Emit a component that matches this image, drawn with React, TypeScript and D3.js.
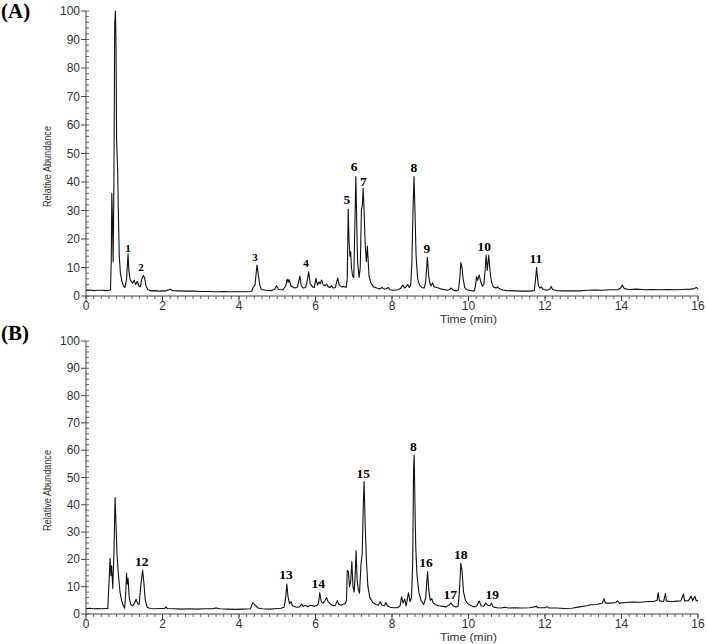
import React from "react";
import * as d3 from "d3";

// ---- Data (time in min, relative abundance %) ----
const traceA: [number, number][] = [
  [0.0, 2.0], [0.1, 2.1], [0.2, 1.9], [0.3, 2.0], [0.4, 2.0], [0.5, 1.9], [0.6, 2.0], [0.64, 2.2],
  [0.66, 12], [0.675, 36], [0.69, 28], [0.71, 12], [0.73, 40], [0.75, 95], [0.77, 100], [0.785, 88],
  [0.8, 55], [0.83, 43], [0.845, 30], [0.87, 14], [0.9, 8], [0.94, 5], [0.98, 3.5], [1.02, 3.0],
  [1.06, 6], [1.1, 14.8], [1.12, 9], [1.15, 6], [1.19, 5], [1.22, 4.5], [1.26, 5.5], [1.3, 4],
  [1.34, 5.2], [1.38, 3.5], [1.42, 3.2], [1.46, 6], [1.5, 7.2], [1.53, 6.5], [1.57, 3.5], [1.62, 2.2],
  [1.7, 1.8], [1.8, 1.9], [1.9, 1.7], [2.0, 1.8], [2.1, 1.8], [2.2, 2.4], [2.26, 1.9], [2.4, 1.8],
  [2.6, 1.7], [2.8, 1.7], [3.0, 1.6], [3.2, 1.6], [3.4, 1.5], [3.6, 1.6], [3.8, 1.5], [4.0, 1.5],
  [4.2, 1.5], [4.33, 1.6], [4.37, 3.0], [4.42, 4.0], [4.47, 10.9], [4.5, 8], [4.54, 4], [4.58, 2.3],
  [4.7, 2.0], [4.85, 1.9], [4.93, 2.4], [4.98, 3.6], [5.03, 2.3], [5.15, 2.2], [5.22, 3.5], [5.26, 5.9],
  [5.285, 4.8], [5.31, 5.8], [5.36, 3.5], [5.45, 2.8], [5.52, 3.0], [5.56, 5], [5.59, 7.0], [5.63, 3.5],
  [5.68, 2.8], [5.74, 3.0], [5.78, 5], [5.82, 8.5], [5.86, 4.5], [5.92, 3.2], [5.97, 3.0], [6.01, 6.2],
  [6.05, 3.8], [6.09, 5], [6.12, 4.2], [6.16, 5.6], [6.2, 4.0], [6.25, 3.5], [6.29, 4.2], [6.33, 3.2],
  [6.38, 3.0], [6.42, 3.6], [6.46, 2.8], [6.52, 3.0], [6.58, 6.4], [6.62, 3.8], [6.68, 3.2], [6.74, 3.3],
  [6.8, 3.0], [6.83, 6], [6.855, 30.4], [6.875, 20], [6.9, 14], [6.92, 15.5], [6.94, 10], [6.97, 7],
  [7.0, 6.5], [7.03, 25], [7.055, 41.9], [7.075, 28], [7.1, 12], [7.14, 6.5], [7.17, 10], [7.2, 30],
  [7.225, 32], [7.245, 37.8], [7.27, 30], [7.3, 18], [7.33, 12], [7.355, 17.5], [7.37, 14], [7.4, 7],
  [7.45, 4.5], [7.52, 3.2], [7.6, 2.8], [7.68, 2.5], [7.74, 3.0], [7.8, 2.4], [7.86, 2.6], [7.9, 3.0],
  [7.95, 2.2], [8.05, 2.0], [8.15, 2.2], [8.22, 2.6], [8.28, 3.8], [8.33, 2.8], [8.37, 3.2], [8.41, 4.0],
  [8.45, 3.0], [8.49, 3.8], [8.52, 12], [8.545, 28], [8.575, 41.9], [8.6, 30], [8.63, 14], [8.67, 6],
  [8.72, 3.8], [8.78, 3.0], [8.84, 2.8], [8.88, 5], [8.925, 13.6], [8.96, 7], [8.99, 4.5], [9.02, 3.5],
  [9.06, 4.6], [9.1, 3.2], [9.17, 3.0], [9.25, 2.6], [9.35, 2.3], [9.45, 2.0], [9.5, 2.2], [9.55, 2.8],
  [9.6, 2.0], [9.68, 1.8], [9.74, 2.2], [9.77, 6], [9.8, 11.7], [9.83, 10], [9.86, 6], [9.9, 3],
  [9.95, 2.2], [10.05, 1.9], [10.15, 1.8], [10.18, 3.5], [10.21, 6.8], [10.24, 5.5], [10.28, 7.4], [10.32, 5],
  [10.36, 3.5], [10.4, 4], [10.44, 10], [10.46, 14.4], [10.49, 9], [10.53, 14.4], [10.56, 9], [10.6, 5],
  [10.65, 3.2], [10.72, 2.8], [10.76, 3.2], [10.8, 2.6], [10.9, 2.1], [11.0, 1.9], [11.2, 1.8], [11.4, 1.7],
  [11.6, 1.7], [11.72, 1.9], [11.755, 6], [11.78, 10.1], [11.8, 7], [11.83, 3.5], [11.87, 2.8], [11.9, 3.2],
  [11.95, 2.4], [12.05, 2.0], [12.12, 2.3], [12.16, 3.3], [12.2, 2.3], [12.3, 1.9], [12.5, 1.8], [12.7, 1.8],
  [12.9, 1.8], [13.1, 2.0], [13.3, 2.1], [13.5, 2.0], [13.7, 2.2], [13.9, 2.2], [13.98, 2.8], [14.02, 3.9],
  [14.07, 2.6], [14.2, 2.3], [14.4, 2.4], [14.6, 2.2], [14.8, 2.3], [15.0, 2.2], [15.2, 2.3], [15.4, 2.2],
  [15.6, 2.3], [15.8, 2.4], [15.9, 2.6], [15.96, 3.0], [16.0, 2.5],
];

const traceB: [number, number][] = [
  [0.0, 2.0], [0.1, 2.1], [0.2, 1.9], [0.3, 2.0], [0.4, 1.9], [0.5, 2.0], [0.57, 2.0], [0.59, 8],
  [0.63, 20.4], [0.65, 14], [0.67, 17.7], [0.7, 9.4], [0.73, 22], [0.76, 42.7], [0.78, 35], [0.81, 22],
  [0.85, 14], [0.89, 8], [0.93, 5], [0.97, 3.2], [1.01, 2.1], [1.04, 8], [1.06, 14.9], [1.08, 11],
  [1.1, 13], [1.13, 6], [1.17, 3.5], [1.22, 3.0], [1.27, 4], [1.31, 5.4], [1.35, 3.8], [1.39, 3.5],
  [1.43, 10], [1.48, 16.1], [1.51, 12], [1.55, 5], [1.6, 2.5], [1.68, 2.0], [1.8, 1.9], [1.95, 2.0],
  [2.05, 2.0], [2.09, 2.6], [2.13, 2.0], [2.3, 1.9], [2.5, 1.8], [2.7, 1.9], [2.9, 1.8], [3.1, 1.9],
  [3.3, 1.9], [3.4, 2.2], [3.5, 1.9], [3.7, 1.8], [3.9, 1.7], [4.1, 1.8], [4.3, 1.9], [4.36, 4.2],
  [4.42, 3.2], [4.5, 2.2], [4.6, 1.9], [4.8, 1.8], [5.0, 2.0], [5.1, 2.1], [5.18, 2.5], [5.22, 6],
  [5.25, 11], [5.28, 6.5], [5.32, 3.8], [5.36, 4.5], [5.4, 3.0], [5.5, 2.5], [5.58, 2.6], [5.64, 3.6],
  [5.68, 2.8], [5.74, 3.2], [5.8, 2.6], [5.86, 3.2], [5.92, 3.0], [5.98, 2.8], [6.04, 3.2], [6.08, 4],
  [6.11, 7.8], [6.15, 4.5], [6.2, 4.0], [6.25, 5], [6.29, 6.0], [6.33, 4.5], [6.4, 3.5], [6.47, 3.0],
  [6.52, 3.2], [6.57, 4.9], [6.61, 3.6], [6.67, 3.2], [6.72, 3.6], [6.78, 3.8], [6.81, 5], [6.83, 16],
  [6.86, 15.5], [6.89, 10], [6.92, 12], [6.95, 19.2], [6.98, 10], [7.01, 8], [7.04, 15], [7.06, 23.2],
  [7.09, 12], [7.12, 9], [7.15, 7.6], [7.19, 18.3], [7.22, 22], [7.25, 40], [7.27, 48.5], [7.3, 32],
  [7.33, 20], [7.37, 10], [7.42, 6], [7.5, 4.2], [7.58, 3.5], [7.64, 3.2], [7.69, 4.5], [7.74, 3.2],
  [7.8, 3.0], [7.84, 4.2], [7.88, 3.0], [7.95, 2.5], [8.05, 2.3], [8.15, 2.3], [8.21, 3], [8.25, 6.3],
  [8.29, 4], [8.33, 5.5], [8.37, 3], [8.43, 7.8], [8.47, 4.5], [8.51, 6], [8.54, 18], [8.565, 53.4],
  [8.58, 58.2], [8.6, 40], [8.62, 25], [8.65, 15], [8.7, 8], [8.76, 5], [8.83, 3.5], [8.88, 6],
  [8.93, 15.5], [8.96, 9], [9.0, 5], [9.04, 5.6], [9.08, 4], [9.14, 3.4], [9.22, 3.0], [9.32, 2.8],
  [9.42, 2.6], [9.5, 3.4], [9.54, 4.1], [9.6, 3.0], [9.68, 2.5], [9.73, 3.0], [9.76, 8], [9.8, 18.6],
  [9.83, 16], [9.87, 8], [9.92, 5], [9.98, 3.8], [10.05, 3.2], [10.15, 2.6], [10.22, 3.0], [10.28, 4.8],
  [10.33, 3.0], [10.4, 2.9], [10.45, 4.0], [10.5, 3.2], [10.56, 3.0], [10.6, 4.0], [10.64, 2.6], [10.75, 2.3],
  [10.85, 2.2], [10.95, 2.5], [11.05, 2.2], [11.2, 2.3], [11.4, 2.2], [11.6, 2.3], [11.78, 2.8], [11.82, 2.3],
  [12.0, 2.3], [12.05, 2.7], [12.1, 2.2], [12.3, 2.2], [12.5, 2.0], [12.7, 2.1], [12.9, 2.6], [13.1, 3.0],
  [13.2, 3.4], [13.35, 3.5], [13.5, 4.0], [13.54, 5.6], [13.58, 4.0], [13.7, 4.0], [13.85, 4.2], [13.9, 4.8],
  [13.95, 4.0], [14.1, 4.2], [14.3, 4.4], [14.5, 4.3], [14.7, 4.6], [14.85, 4.6], [14.93, 5], [14.96, 7.8],
  [14.99, 4.8], [15.1, 4.6], [15.15, 7.6], [15.17, 4.8], [15.3, 4.5], [15.45, 4.7], [15.55, 4.8], [15.62, 7.3],
  [15.65, 4.8], [15.75, 4.9], [15.82, 6.5], [15.86, 4.9], [15.92, 6.5], [15.95, 5], [16.0, 4.8],
];

// Peak annotations: [label, time, abundance at label centre, small?]
const peaksA: [string, number, number, boolean][] = [
  ["1", 1.1, 17, true], ["2", 1.44, 10.3, true], ["3", 4.42, 13.8, true], ["4", 5.75, 11.6, true],
  ["5", 6.82, 33.7, false], ["6", 7.01, 45.4, false], ["7", 7.25, 40.1, false], ["8", 8.57, 45, false],
  ["9", 8.91, 16.7, false], ["10", 10.41, 17.5, false], ["11", 11.76, 13.2, false],
];
const peaksB: [string, number, number, boolean][] = [
  ["12", 1.46, 19.2, false], ["13", 5.23, 14.3, false], ["14", 6.07, 11, false], ["15", 7.25, 51.5, false],
  ["8", 8.56, 61.5, false], ["16", 8.89, 18.8, false], ["17", 9.52, 7.0, false], ["18", 9.8, 21.9, false],
  ["19", 10.62, 7.3, false],
];

const xMajor = [0, 2, 4, 6, 8, 10, 12, 14, 16];
const yMajor = [0, 10, 20, 30, 40, 50, 60, 70, 80, 90, 100];

const SANS = "'Liberation Sans', Arial, sans-serif";
const SERIF = "'Liberation Serif', 'Times New Roman', serif";

type PanelProps = {
  trace: [number, number][];
  peaks: [string, number, number, boolean][];
  top: number;
  bottom: number;
  label: string;
  labelY: number;
};

function Panel({ trace, peaks, top, bottom, label, labelY }: PanelProps) {
  const x = d3.scaleLinear().domain([0, 16]).range([86, 698]);
  const y = d3.scaleLinear().domain([0, 100]).range([bottom, top]);
  const line = d3
    .line<[number, number]>()
    .x((d) => x(d[0]))
    .y((d) => y(d[1]));
  const xMinor = d3.range(0, 16.001, 0.2);
  const yMinor = d3.range(0, 100.001, 2);
  const axisColor = "#444";
  return (
    <g>
      <text x={1} y={labelY} fontFamily={SERIF} fontWeight="bold" fontSize={21} fill="#000">
        {label}
      </text>
      {/* y axis */}
      <line x1={x(0)} x2={x(0)} y1={y(0)} y2={y(100)} stroke={axisColor} strokeWidth={1} />
      {yMinor.map((v) => (
        <line key={"ym" + v} x1={x(0)} x2={x(0) + 3} y1={y(v)} y2={y(v)} stroke={axisColor} strokeWidth={0.8} />
      ))}
      {yMajor.map((v) => (
        <g key={"yM" + v}>
          <line x1={x(0) - 5} x2={x(0)} y1={y(v)} y2={y(v)} stroke={axisColor} strokeWidth={1} />
          <text x={x(0) - 6} y={y(v) + 4} textAnchor="end" fontFamily={SANS} fontSize={12} fill="#333">
            {v}
          </text>
        </g>
      ))}
      <text
        transform={`translate(51,${(y(0) + y(100)) / 2 + 13}) rotate(-90)`}
        textAnchor="middle"
        fontFamily={SANS}
        fontSize={10}
        fill="#333"
        textLength={81}
        lengthAdjust="spacingAndGlyphs"
      >
        Relative Abundance
      </text>
      {/* x axis */}
      <line x1={x(0)} x2={x(16)} y1={y(0)} y2={y(0)} stroke={axisColor} strokeWidth={1} />
      {xMinor.map((t, i) => (
        <line key={"xm" + i} x1={x(t)} x2={x(t)} y1={y(0)} y2={y(0) + 3} stroke={axisColor} strokeWidth={0.8} />
      ))}
      {xMajor.map((t) => (
        <g key={"xM" + t}>
          <line x1={x(t)} x2={x(t)} y1={y(0)} y2={y(0) + 5} stroke={axisColor} strokeWidth={1} />
          <text x={x(t)} y={y(0) + 14} textAnchor="middle" fontFamily={SANS} fontSize={12} fill="#333">
            {t}
          </text>
        </g>
      ))}
      <text
        x={468.5}
        y={y(0) + 27}
        textAnchor="middle"
        fontFamily={SANS}
        fontSize={10.5}
        fill="#333"
        textLength={57}
        lengthAdjust="spacingAndGlyphs"
      >
        Time (min)
      </text>
      {/* trace */}
      <path d={line(trace) ?? ""} fill="none" stroke="#111" strokeWidth={1.1} strokeLinejoin="round" />
      {peaks.map(([txt, t, v, small], i) => (
        <text
          key={"p" + i}
          x={x(t)}
          y={y(v) + (small ? 4 : 4.5)}
          textAnchor="middle"
          fontFamily={SERIF}
          fontWeight="bold"
          fontSize={small ? 11 : 13.5}
          fill="#000"
        >
          {txt}
        </text>
      ))}
    </g>
  );
}

export default function App() {
  return (
    <svg width={708} height={644} style={{ position: "absolute", left: 0, top: 0, background: "#fff" }}>
      <rect width={708} height={644} fill="#fff" />
      <Panel trace={traceA} peaks={peaksA} top={11} bottom={296} label="(A)" labelY={18} />
      <Panel trace={traceB} peaks={peaksB} top={341} bottom={614} label="(B)" labelY={340} />
    </svg>
  );
}
